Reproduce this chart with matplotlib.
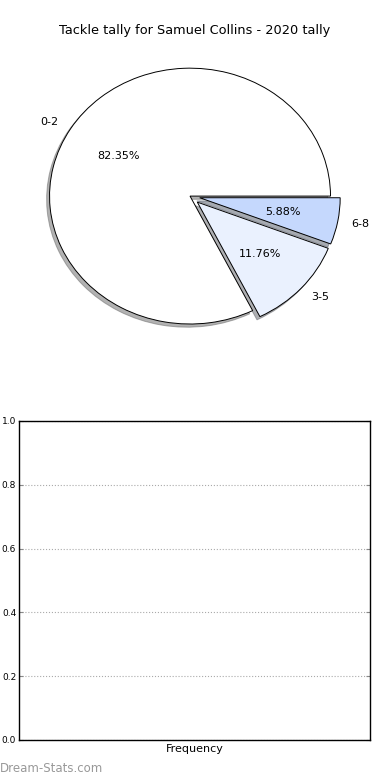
import matplotlib
matplotlib.use("Agg")
import matplotlib.pyplot as plt

labels = ["0-2", "3-5", "6-8"]
counts = [14, 2, 1]
explode = [0, 0.07, 0.07]
colors = ["#ffffff", "#eaf1fe", "#c5d8fd"]
y_ticks = [0.0, 0.2, 0.4, 0.6, 0.8, 1.0]

fig = plt.figure(figsize=(3.9, 7.8), dpi=100)

# pie on top, stretched (not equal aspect)
ax1 = fig.add_axes([0.037, 0.5436, 0.9005, 0.410])
ax1.pie(counts,
        labels=labels,
        explode=explode,
        colors=colors,
        autopct="%1.2f%%",
        shadow={"ox": -0.015, "oy": -0.018, "shade": 0.6},
        startangle=0,
        wedgeprops={"edgecolor": "black", "linewidth": 0.7},
        textprops={"fontsize": 8},
        )
ax1.set_aspect("auto")
ax1.set_xlim(-1.25, 1.25)
ax1.set_ylim(-1.25, 1.25)
# title is centred on the figure, not on the pie
fig.text(0.5, 0.953, "Tackle tally for Samuel Collins - 2020 tally",
         fontsize=9.3, ha="center", va="bottom")

# empty frequency axes below
ax2 = fig.add_axes([0.0487, 0.0513, 0.9, 0.409])
ax2.set_ylim(0, 1)
ax2.set_yticks(y_ticks)
ax2.set_yticklabels(["%.1f" % v for v in y_ticks])
ax2.set_xticks([])
ax2.tick_params(axis="y", direction="in", labelsize=6.5, length=3,
                right=True, color="#888888", pad=2)
ax2.grid(axis="y", linestyle=":", color="#aaaaaa", linewidth=0.8)
ax2.set_axisbelow(True)
ax2.set_xlabel("Frequency", fontsize=8, labelpad=3)
for s in ax2.spines.values():
    s.set_linewidth(1.0)

fig.text(0.0, 0.006, "Dream-Stats.com", fontsize=8.5, color="#999999",
         ha="left", va="bottom")

fig.savefig("out.png", dpi=100)
